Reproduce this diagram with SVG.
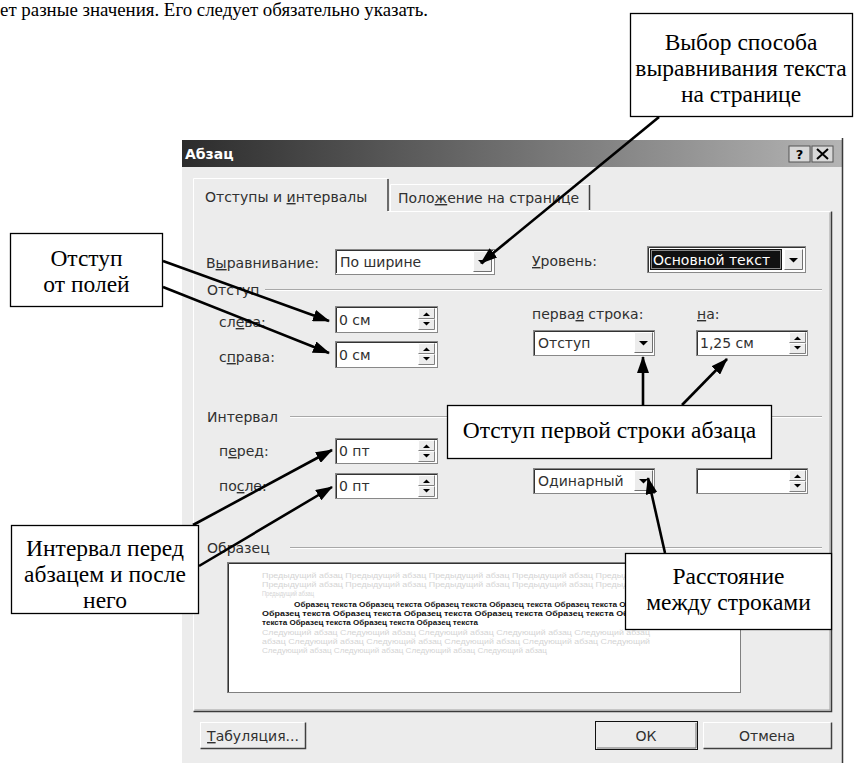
<svg xmlns="http://www.w3.org/2000/svg" xmlns:xlink="http://www.w3.org/1999/xlink" width="859" height="763" viewBox="0 0 859 763">
<style>
.ui{font-family:"DejaVu Sans","Liberation Sans",sans-serif;font-size:14px;fill:#303030}
.cap{font-family:"Liberation Serif","Times New Roman",serif;font-size:23.5px;fill:#000;text-anchor:middle}
.box{fill:#fff;stroke:#000;stroke-width:1.3}
.conn{stroke:#000;stroke-width:2.6;fill:none;marker-end:url(#arr)}
.field{fill:#fff;stroke:#888;stroke-width:1}
.fin{fill:none;stroke:#333;stroke-width:1}
.etch{stroke:#a8a8a8;stroke-width:1}
.etchw{stroke:#fff;stroke-width:1}
.u{text-decoration:underline}
.gray{font-family:"Liberation Sans",sans-serif;font-size:7px;fill:#d4d4d4}
.bold{font-family:"Liberation Sans",sans-serif;font-size:7px;font-weight:bold;fill:#111}
</style>
<defs>
<linearGradient id="tb" x1="0" y1="0" x2="1" y2="0">
<stop offset="0" stop-color="#2c2c2c"/>
<stop offset="1" stop-color="#b4b4b4"/>
</linearGradient>
<marker id="arr" markerUnits="userSpaceOnUse" markerWidth="17" markerHeight="12" refX="16" refY="6" orient="auto">
<path d="M0,0 L17,6 L0,12 z" fill="#000"/>
</marker>
<g id="spin">
<rect x="0" y="0" width="17" height="22" fill="#ececec"/>
<path d="M0.5,10.5 V0.5 H16.5" stroke="#fff" fill="none"/>
<path d="M0.5,10.5 H16.5 V0.5" stroke="#808080" fill="none"/>
<path d="M0.5,21.5 V11.5 H16.5" stroke="#fff" fill="none"/>
<path d="M0.5,21.5 H16.5 V11.5" stroke="#808080" fill="none"/>
<path d="M5,8 L8.5,4.5 L12,8 z" fill="#000"/>
<path d="M5,14 L12,14 L8.5,17.5 z" fill="#000"/>
</g>
<g id="drop">
<rect x="0" y="0" width="19" height="21" fill="#ececec"/>
<path d="M0.5,20.5 V0.5 H18.5" stroke="#fff" fill="none"/>
<path d="M0.5,20.5 H18.5 V0.5" stroke="#707070" fill="none"/>
<path d="M5,9 L14,9 L9.5,13.5 z" fill="#000"/>
</g>
</defs>
<rect width="859" height="763" fill="#fff"/>
<text x="0" y="16" font-family="Liberation Serif,serif" font-size="19" textLength="428" lengthAdjust="spacingAndGlyphs">ет разные значения. Его следует обязательно указать.</text>

<g id="dialog">
<rect x="182" y="140" width="661" height="623" fill="#ececec"/>
<rect x="182" y="140" width="660" height="27" fill="url(#tb)"/>
<line x1="842.5" y1="138" x2="842.5" y2="763" stroke="#3a3a3a" stroke-width="1.5"/>
<text x="185" y="159" font-family="DejaVu Sans,sans-serif" font-size="14" font-weight="bold" fill="#fff">Абзац</text>
<g id="btn-help">
<rect x="789" y="146" width="21" height="16" fill="#d8d8d8" stroke="#555" stroke-width="1"/>
<text x="799.5" y="159" font-family="DejaVu Sans,sans-serif" font-size="13" font-weight="bold" text-anchor="middle" fill="#000">?</text>
</g>
<g id="btn-close">
<rect x="812" y="146" width="21" height="16" fill="#d8d8d8" stroke="#555" stroke-width="1"/>
<path d="M817,149 L828,159 M828,149 L817,159" stroke="#000" stroke-width="2"/>
</g>

<g id="tabs">
<path d="M390.5,211 V184.5 H589.5 V211" fill="#ececec" stroke="#fff"/>
<line x1="589.5" y1="185" x2="589.5" y2="210" stroke="#404040" stroke-width="1.5"/>
<text x="398" y="203" class="ui">Поло<tspan class="u">ж</tspan>ение на странице</text>
<path d="M193.5,712 V211.5 H194 M388,211.5 H832" fill="none" stroke="#fff"/>
<path d="M193.5,212 V178.5 H387.5" fill="none" stroke="#fff"/>
<line x1="388" y1="179" x2="388" y2="211" stroke="#404040" stroke-width="1.5"/>
<text x="205" y="202" class="ui">Отступы и <tspan class="u">и</tspan>нтервалы</text>
<path d="M193.5,711.5 H831.5 V211.5" fill="none" stroke="#3a3a3a" stroke-width="1.5"/>
<path d="M194.5,710 H830 V212.5" fill="none" stroke="#a0a0a0"/>
</g>

<g id="row-align">
<text x="206" y="268" class="ui">В<tspan class="u">ы</tspan>равнивание:</text>
<rect x="335.5" y="249.5" width="159" height="25" class="field"/>
<path d="M336.5,273 V250.5 H493" class="fin"/>
<text x="340" y="267" class="ui" fill="#000">По ширине</text>
<use xlink:href="#drop" x="473" y="251"/>
<text x="532" y="266" class="ui"><tspan class="u">У</tspan>ровень:</text>
<rect x="647.5" y="246.5" width="158" height="26" class="field"/>
<path d="M648.5,272 V247.5 H805" class="fin"/>
<rect x="650" y="249" width="132" height="21" fill="#111"/>
<rect x="651.5" y="250.5" width="129" height="18" fill="none" stroke="#fff" stroke-dasharray="1,1"/>
<text x="653" y="265" class="ui" style="fill:#fff">Основной текст</text>
<use xlink:href="#drop" x="784" y="249"/>
</g>

<g id="group-indent">
<text x="207" y="295" class="ui">Отступ</text>
<line x1="265" y1="289.5" x2="822" y2="289.5" class="etch"/>
<line x1="265" y1="290.5" x2="822" y2="290.5" class="etchw"/>
<text x="219" y="327" class="ui">сл<tspan class="u">е</tspan>ва:</text>
<rect x="335.5" y="306.5" width="102" height="26" class="field"/>
<path d="M336.5,332 V307.5 H437" class="fin"/>
<text x="339" y="325" class="ui" fill="#000">0 см</text>
<use xlink:href="#spin" x="418" y="308"/>
<text x="219" y="362" class="ui">с<tspan class="u">п</tspan>рава:</text>
<rect x="335.5" y="341.5" width="102" height="26" class="field"/>
<path d="M336.5,367 V342.5 H437" class="fin"/>
<text x="339" y="360" class="ui" fill="#000">0 см</text>
<use xlink:href="#spin" x="418" y="343"/>
<text x="532" y="319" class="ui">перва<tspan class="u">я</tspan> строка:</text>
<rect x="533.5" y="330.5" width="121" height="25" class="field"/>
<path d="M534.5,355 V331.5 H654" class="fin"/>
<text x="538" y="348" class="ui" fill="#000">Отступ</text>
<use xlink:href="#drop" x="634" y="332"/>
<text x="697" y="319" class="ui"><tspan class="u">н</tspan>а:</text>
<rect x="696.5" y="330.5" width="111" height="25" class="field"/>
<path d="M697.5,355 V331.5 H807" class="fin"/>
<text x="700" y="348" class="ui" fill="#000">1,25 см</text>
<use xlink:href="#spin" x="789" y="332"/>
</g>

<g id="group-interval">
<text x="207" y="422" class="ui">Интервал</text>
<line x1="290" y1="416.5" x2="822" y2="416.5" class="etch"/>
<line x1="290" y1="417.5" x2="822" y2="417.5" class="etchw"/>
<text x="219" y="456" class="ui">п<tspan class="u">е</tspan>ред:</text>
<rect x="335.5" y="438.5" width="102" height="25" class="field"/>
<path d="M336.5,463 V439.5 H437" class="fin"/>
<text x="339" y="456" class="ui" fill="#000">0 пт</text>
<use xlink:href="#spin" x="418" y="440"/>
<text x="219" y="491" class="ui">по<tspan class="u">с</tspan>ле:</text>
<rect x="335.5" y="473.5" width="102" height="25" class="field"/>
<path d="M336.5,498 V474.5 H437" class="fin"/>
<text x="339" y="491" class="ui" fill="#000">0 пт</text>
<use xlink:href="#spin" x="418" y="475"/>
<rect x="533.5" y="468.5" width="121" height="25" class="field"/>
<path d="M534.5,493 V469.5 H654" class="fin"/>
<text x="538" y="486" class="ui" fill="#000">Одинарный</text>
<use xlink:href="#drop" x="634" y="470"/>
<rect x="696.5" y="468.5" width="111" height="25" class="field"/>
<path d="M697.5,493 V469.5 H807" class="fin"/>
<use xlink:href="#spin" x="789" y="470"/>
</g>

<g id="group-sample">
<text x="207" y="553" class="ui">Образец</text>
<line x1="290" y1="547.5" x2="822" y2="547.5" class="etch"/>
<line x1="290" y1="548.5" x2="822" y2="548.5" class="etchw"/>
<rect x="227.5" y="562.5" width="513" height="130" fill="#fff" stroke="#808080"/>
<path d="M228.5,692 V563.5 H740" fill="none" stroke="#333"/>
<text x="262" y="578" class="gray" textLength="388" lengthAdjust="spacingAndGlyphs">Предыдущий абзац Предыдущий абзац Предыдущий абзац Предыдущий абзац Предыдущий</text>
<text x="262" y="587" class="gray" textLength="388" lengthAdjust="spacingAndGlyphs">Предыдущий абзац Предыдущий абзац Предыдущий абзац Предыдущий абзац Предыдущий</text>
<text x="262" y="596" class="gray" textLength="52" lengthAdjust="spacingAndGlyphs">Предыдущий абзац</text>
<text x="294" y="607" class="bold" textLength="360" lengthAdjust="spacingAndGlyphs">Образец текста Образец текста Образец текста Образец текста Образец текста Образец</text>
<text x="262" y="616" class="bold" textLength="392" lengthAdjust="spacingAndGlyphs">Образец текста Образец текста Образец текста Образец текста Образец текста Образец</text>
<text x="262" y="625" class="bold" textLength="216" lengthAdjust="spacingAndGlyphs">текста Образец текста Образец текста Образец текста</text>
<text x="262" y="635" class="gray" textLength="388" lengthAdjust="spacingAndGlyphs">Следующий абзац Следующий абзац Следующий абзац Следующий абзац Следующий абзац</text>
<text x="262" y="644" class="gray" textLength="388" lengthAdjust="spacingAndGlyphs">абзац Следующий абзац Следующий абзац Следующий абзац Следующий абзац Следующий</text>
<text x="262" y="653" class="gray" textLength="285" lengthAdjust="spacingAndGlyphs">Следующий абзац Следующий абзац Следующий абзац Следующий абзац</text>
</g>

<g id="buttons">
<rect x="200.5" y="722.5" width="105" height="26" fill="#ececec" stroke="#fff"/>
<path d="M200.5,748.5 H305.5 V722.5" fill="none" stroke="#404040" stroke-width="1.5"/>
<text x="253" y="741" class="ui" text-anchor="middle" fill="#000"><tspan class="u">Т</tspan>абуляция...</text>
<rect x="595.5" y="721.5" width="102" height="28" fill="#ececec" stroke="#111"/>
<path d="M597,748 H696 V723" fill="none" stroke="#707070"/>
<text x="646" y="741" class="ui" text-anchor="middle" fill="#000">ОК</text>
<rect x="703.5" y="722.5" width="128" height="26" fill="#ececec" stroke="#fff"/>
<path d="M703.5,748.5 H831.5 V722.5" fill="none" stroke="#404040" stroke-width="1.5"/>
<text x="767" y="741" class="ui" text-anchor="middle" fill="#000">Отмена</text>
</g>
</g>

<g id="connectors">
<line x1="659" y1="117" x2="481" y2="263" class="conn"/>
<line x1="163" y1="261" x2="329" y2="321" class="conn"/>
<line x1="163" y1="287" x2="329" y2="353" class="conn"/>
<line x1="643" y1="405" x2="643" y2="357" class="conn"/>
<line x1="682" y1="405" x2="727" y2="359" class="conn"/>
<line x1="193" y1="525" x2="332" y2="450" class="conn"/>
<line x1="199" y1="566" x2="332" y2="487" class="conn"/>
<line x1="665" y1="553" x2="648" y2="478" class="conn"/>
</g>

<g id="callout-align">
<rect x="630.5" y="13.5" width="222" height="103" class="box"/>
<text x="741" y="50" class="cap">Выбор способа</text>
<text x="741" y="76" class="cap">выравнивания текста</text>
<text x="741" y="102" class="cap">на странице</text>
</g>
<g id="callout-margins">
<rect x="10.5" y="233.5" width="152" height="73" class="box"/>
<text x="86.5" y="266" class="cap">Отступ</text>
<text x="86.5" y="292" class="cap">от полей</text>
</g>
<g id="callout-firstline">
<rect x="447.5" y="405.5" width="324" height="53" class="box"/>
<text x="609.5" y="438" class="cap">Отступ первой строки абзаца</text>
</g>
<g id="callout-spacing">
<rect x="11.5" y="525.5" width="187" height="88" class="box"/>
<text x="105" y="556" class="cap">Интервал перед</text>
<text x="105" y="582" class="cap">абзацем и после</text>
<text x="105" y="608" class="cap">него</text>
</g>
<g id="callout-linespacing">
<rect x="625.5" y="553.5" width="206" height="76" class="box"/>
<text x="728.5" y="584" class="cap">Расстояние</text>
<text x="728.5" y="610" class="cap">между строками</text>
</g>
</svg>
